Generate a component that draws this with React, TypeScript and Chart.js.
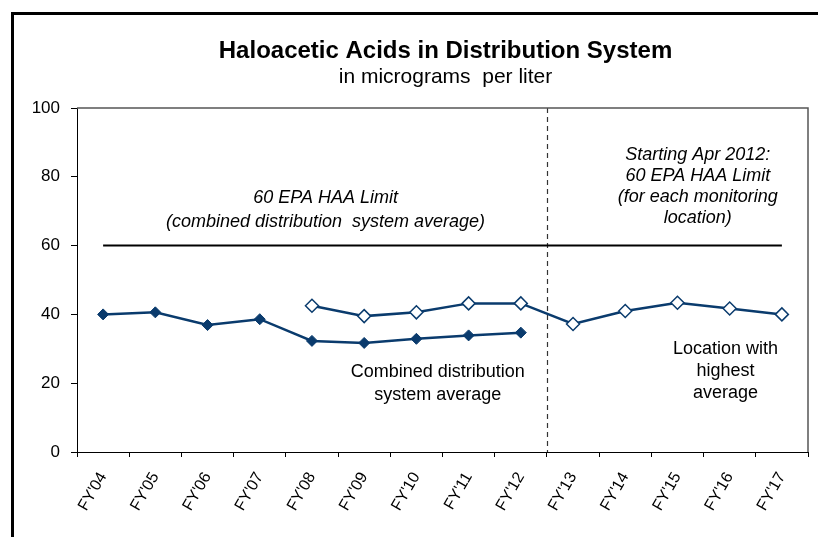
import React, { useEffect, useRef } from "react";
import { Chart, registerables } from "chart.js";

Chart.register(...registerables);

// ---------- data ----------
const categories = [
  "FY'04", "FY'05", "FY'06", "FY'07", "FY'08", "FY'09", "FY'10",
  "FY'11", "FY'12", "FY'13", "FY'14", "FY'15", "FY'16", "FY'17",
];
const combinedAverage = [40.0, 40.6, 36.9, 38.6, 32.3, 31.7, 32.9, 33.9, 34.7, null, null, null, null, null];
const highestLocation = [null, null, null, null, 42.5, 39.5, 40.6, 43.2, 43.2, 37.2, 41.0, 43.4, 41.7, 40.0];
const epaLimit = [60, 60, 60, 60, 60, 60, 60, 60, 60, 60, 60, 60, 60, 60];
const yMin = 0;
const yMax = 100;
const yStep = 20;
const titleText = "Haloacetic Acids in Distribution System";
const subtitleText = "in micrograms  per liter";
// boundary between FY'12 and FY'13 (category index units)
const limitChangeAt = 8.5;
// annotation texts with their category-index / value anchors
const noteTexts = [
  "60 EPA HAA Limit",
  "(combined distribution  system average)",
  "Starting Apr 2012:",
  "60 EPA HAA Limit",
  "(for each monitoring",
  "location)",
  "Combined distribution",
  "system average",
  "Location with",
  "highest",
  "average",
];
const noteX = [4.26, 4.26, 11.39, 11.39, 11.39, 11.39, 6.41, 6.41, 11.92, 11.92, 11.92];
const noteY = [73.8, 66.8, 86.3, 80.2, 74.1, 68.0, 23.2, 16.5, 29.9, 23.5, 17.1];
const noteItalic = [true, true, true, true, true, true, false, false, false, false, false];

const FONT = "'Liberation Sans', Arial, sans-serif";
const NAVY = "#0A3B6D";

const decorPlugin = {
  id: "decor",
  beforeDraw(chart: any) {
    const { ctx, width, height } = chart;
    ctx.save();
    ctx.fillStyle = "#ffffff";
    ctx.fillRect(0, 0, width, height);
    ctx.restore();
  },
  beforeDatasetsDraw(chart: any) {
    const { ctx, chartArea, scales } = chart;
    const xb = scales.x.getPixelForValue(limitChangeAt);
    ctx.save();
    ctx.setLineDash([5, 4]);
    ctx.strokeStyle = "#333333";
    ctx.lineWidth = 1.2;
    ctx.beginPath();
    ctx.moveTo(Math.round(xb) + 0.5, chartArea.top);
    ctx.lineTo(Math.round(xb) + 0.5, chartArea.bottom);
    ctx.stroke();
    ctx.restore();
  },
  afterDraw(chart: any) {
    const { ctx, chartArea, scales, width, height } = chart;
    ctx.save();
    // outer frame (left and top)
    ctx.fillStyle = "#000000";
    ctx.fillRect(11, 12, 3, height - 12);
    ctx.fillRect(11, 12, width - 11, 3);
    // plot box top & right
    ctx.strokeStyle = "#555555";
    ctx.lineWidth = 1.5;
    ctx.beginPath();
    ctx.moveTo(chartArea.left, chartArea.top);
    ctx.lineTo(chartArea.right, chartArea.top);
    ctx.lineTo(chartArea.right, chartArea.bottom);
    ctx.stroke();
    // titles
    const cx = (chartArea.left + chartArea.right) / 2 + 3;
    ctx.fillStyle = "#000000";
    ctx.textAlign = "center";
    ctx.textBaseline = "middle";
    ctx.font = `bold 24px ${FONT}`;
    ctx.fillText(titleText, cx, 51);
    ctx.font = `21px ${FONT}`;
    ctx.fillText(subtitleText, cx, 77);
    // notes
    for (let i = 0; i < noteTexts.length; i++) {
      ctx.font = `${noteItalic[i] ? "italic " : ""}18px ${FONT}`;
      ctx.fillText(noteTexts[i], scales.x.getPixelForValue(noteX[i]), scales.y.getPixelForValue(noteY[i]));
    }
    ctx.restore();
  },
};

export default function App() {
  const ref = useRef<HTMLCanvasElement | null>(null);
  useEffect(() => {
    if (!ref.current) return;
    const chart = new Chart(ref.current, {
      type: "line",
      data: {
        labels: categories,
        datasets: [
          {
            label: "60 EPA HAA Limit",
            data: epaLimit,
            borderColor: "#000000",
            borderWidth: 2,
            pointRadius: 0,
            fill: false,
          },
          {
            label: "Combined distribution system average",
            data: combinedAverage as any,
            borderColor: NAVY,
            backgroundColor: NAVY,
            borderWidth: 2.5,
            pointStyle: "rectRot",
            pointRadius: 5.5,
            pointBorderWidth: 1,
            pointBackgroundColor: NAVY,
            pointBorderColor: NAVY,
            spanGaps: false,
            fill: false,
          },
          {
            label: "Location with highest average",
            data: highestLocation as any,
            borderColor: NAVY,
            backgroundColor: "#ffffff",
            borderWidth: 2.5,
            pointStyle: "rectRot",
            pointRadius: 6.5,
            pointBorderWidth: 1.5,
            pointBackgroundColor: "#ffffff",
            pointBorderColor: NAVY,
            spanGaps: false,
            fill: false,
          },
        ],
      },
      options: {
        responsive: false,
        animation: false,
        layout: { padding: { left: 14, top: 108, right: 10, bottom: 0 } },
        plugins: {
          legend: { display: false },
          title: { display: false },
          tooltip: { enabled: false },
        },
        scales: {
          x: {
            type: "category",
            offset: true,
            afterFit: (scale: any) => {
              scale.height = 85;
            },
            grid: {
              offset: true,
              drawOnChartArea: false,
              drawTicks: true,
              tickLength: 5,
              color: "#000000",
            },
            border: { display: true, color: "#000000", width: 1 },
            ticks: {
              autoSkip: false,
              minRotation: 60,
              maxRotation: 60,
              padding: 12,
              color: "#000000",
              font: { family: FONT, size: 16 },
            },
          },
          y: {
            min: yMin,
            max: yMax,
            afterFit: (scale: any) => {
              scale.width = 63;
            },
            grid: {
              drawOnChartArea: false,
              drawTicks: true,
              tickLength: 6,
              color: "#000000",
            },
            border: { display: true, color: "#000000", width: 1 },
            ticks: {
              stepSize: yStep,
              padding: 11,
              color: "#000000",
              font: { family: FONT, size: 17 },
            },
          },
        },
      },
      plugins: [decorPlugin],
    });
    return () => chart.destroy();
  }, []);
  return (
    <div style={{ position: "fixed", left: 0, top: 0, width: 818, height: 537 }}>
      <canvas ref={ref} width={818} height={537} style={{ display: "block" }} />
    </div>
  );
}
